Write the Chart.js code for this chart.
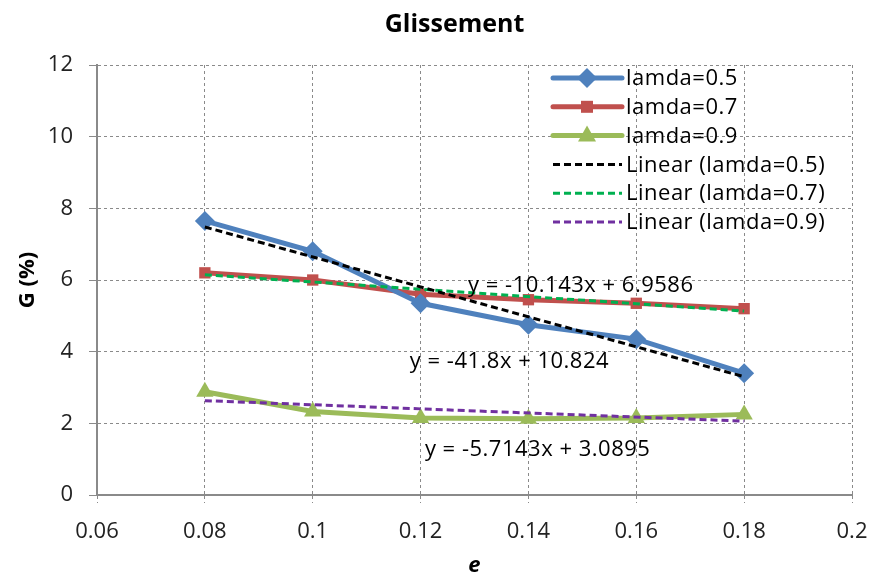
<!DOCTYPE html>
<html><head><meta charset="utf-8">
<script src="https://cdn.jsdelivr.net/npm/chart.js@4/dist/chart.umd.min.js"></script>
<style>html,body{margin:0;padding:0;background:#fff}#wrap{width:869px;height:577px}</style>
</head><body><div id="wrap"><canvas id="c" width="869" height="577"></canvas></div>
<script>
const xValues = [0.08, 0.1, 0.12, 0.14, 0.16, 0.18];
const lamda05 = [7.65, 6.8, 5.35, 4.75, 4.35, 3.4];
const lamda07 = [6.2, 6.0, 5.6, 5.45, 5.35, 5.2];
const lamda09 = [2.88, 2.33, 2.15, 2.13, 2.15, 2.25];
const trendX = [0.08, 0.18];
const trend05 = [7.48, 3.30];
const trend07 = [6.147, 5.133];
const trend09 = [2.632, 2.061];
const seriesNames = ['lamda=0.5','lamda=0.7','lamda=0.9','Linear (lamda=0.5)','Linear (lamda=0.7)','Linear (lamda=0.9)'];
const equations = ['y = -10.143x + 6.9586','y = -41.8x + 10.824','y = -5.7143x + 3.0895'];
const eqAnchors = [[0.1288, 5.83],[0.118, 3.72],[0.1208, 1.27]];
const chartTitle = 'Glissement';
const FONT = '"Open Sans", sans-serif';

const pts = (xs, ys) => xs.map((x,i)=>({x:x, y:ys[i]}));

const dataDs = (label, ys, color, style, r) => ({
  label, data: pts(xValues, ys), borderColor: color, backgroundColor: color,
  borderWidth: 5, pointStyle: style, pointRadius: r, pointHoverRadius: r,
  pointBorderWidth: 0, tension: 0, order: 1
});
const trendDs = (label, ys, color) => ({
  label, data: pts(trendX, ys), borderColor: color, backgroundColor: color,
  borderWidth: 3, borderDash: [7,4], pointRadius: 0, order: 0
});

const overlay = {
  id: 'overlay',
  afterDatasetsDraw(chart) {
    const {ctx, chartArea, scales} = chart;
    ctx.save();
    // title
    ctx.font = 'bold 25px ' + FONT;
    ctx.fillStyle = '#000';
    ctx.textAlign = 'center';
    ctx.textBaseline = 'middle';
    ctx.fillText(chartTitle, chart.width / 2 + 20, 25);
    // equations
    ctx.font = '22px ' + FONT;
    ctx.letterSpacing = '0.5px';
    ctx.textAlign = 'left';
    equations.forEach((t,i)=>{
      ctx.fillText(t, scales.x.getPixelForValue(eqAnchors[i][0]), scales.y.getPixelForValue(eqAnchors[i][1]));
    });
    // legend
    const lx = chartArea.right - 302, ly = chartArea.top + 13, rowH = 28.8;
    chart.data.datasets.forEach((ds,i)=>{
      const cy = ly + i*rowH;
      ctx.save();
      ctx.strokeStyle = ds.borderColor;
      ctx.lineWidth = ds.borderWidth;
      ctx.lineCap = i < 3 ? 'round' : 'butt';
      ctx.setLineDash(ds.borderDash || []);
      ctx.beginPath(); ctx.moveTo(lx + 3, cy); ctx.lineTo(lx + 72, cy); ctx.stroke();
      ctx.setLineDash([]);
      if (i < 3) {
        ctx.fillStyle = ds.backgroundColor;
        ctx.beginPath();
        const r = ds.pointRadius, mx = lx + 37;
        if (ds.pointStyle === 'rectRot') { ctx.moveTo(mx, cy-r); ctx.lineTo(mx+r, cy); ctx.lineTo(mx, cy+r); ctx.lineTo(mx-r, cy); }
        else if (ds.pointStyle === 'rect') { ctx.rect(mx-r*0.75, cy-r*0.75, r*1.5, r*1.5); }
        else { ctx.moveTo(mx, cy-r); ctx.lineTo(mx+r*0.9, cy+r*0.6); ctx.lineTo(mx-r*0.9, cy+r*0.6); }
        ctx.closePath(); ctx.fill();
      }
      ctx.restore();
      ctx.font = '22px ' + FONT;
      ctx.fillStyle = '#000';
      ctx.textAlign = 'left';
      ctx.textBaseline = 'middle';
      ctx.fillText(ds.label, lx + 76, cy + 1);
    });
    ctx.restore();
  }
};

new Chart(document.getElementById('c'), {
  type: 'line',
  data: {
    datasets: [
      dataDs(seriesNames[0], lamda05, '#4F81BD', 'rectRot', 10),
      dataDs(seriesNames[1], lamda07, '#C0504D', 'rect', 8),
      dataDs(seriesNames[2], lamda09, '#9BBB59', 'triangle', 10),
      trendDs(seriesNames[3], trend05, '#000000'),
      trendDs(seriesNames[4], trend07, '#00B050'),
      trendDs(seriesNames[5], trend09, '#7030A0')
    ]
  },
  options: {
    responsive: false,
    animation: false,
    layout: { padding: { left: 0, right: 17, top: 65, bottom: 0 } },
    plugins: {
      legend: { display: false },
      tooltip: { enabled: false },
      title: { display: false }
    },
    scales: {
      x: {
        type: 'linear', min: 0.06, max: 0.2,
        afterFit: s => { s.height = 82; s.paddingLeft = 0; s.paddingRight = 0; },
        border: { color: '#8a8a8a', width: 2, dash: [3,3] },
        grid: { color: '#8a8a8a', lineWidth: 1, tickLength: 8, drawTicks: true, tickBorderDash: [3,3] },
        ticks: { stepSize: 0.02, color: '#222', padding: 16, maxRotation: 0,
          font: { family: FONT, size: 22 },
          callback: v => String(Number(v.toFixed(2))) },
        title: { display: true, text: 'e', color: '#000',
          font: { family: FONT, size: 22, weight: 'bold', style: 'italic', lineHeight: 1 }, padding: { top: 0, bottom: 0 } }
      },
      y: {
        min: 0, max: 12,
        afterFit: s => { s.width = 97; s.paddingTop = 0; s.paddingBottom = 0; },
        border: { color: '#8a8a8a', width: 2, dash: [3,3] },
        grid: { color: '#8a8a8a', lineWidth: 1, tickLength: 8, tickBorderDash: [] },
        ticks: { stepSize: 2, color: '#222', padding: 16, font: { family: FONT, size: 22 } },
        title: { display: true, text: 'G (%)', color: '#000',
          font: { family: FONT, size: 22, weight: 'bold', lineHeight: 1 }, padding: { top: 17, bottom: 0 } }
      }
    }
  },
  plugins: [overlay]
});
</script>
</body></html>
